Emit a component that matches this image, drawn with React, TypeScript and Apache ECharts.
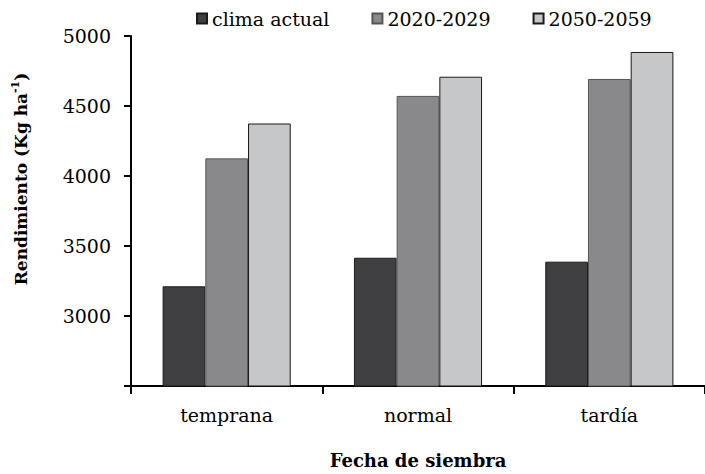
import React, { useEffect, useRef } from "react";
import * as echarts from "echarts";

const categories = ["temprana", "normal", "tardía"];
const seriesNames = ["clima actual", "2020-2029", "2050-2059"];
const climaActual = [3212, 3416, 3388];
const p2020 = [4126, 4572, 4693];
const p2050 = [4375, 4709, 4886];
const yTicks = [2500, 3000, 3500, 4000, 4500, 5000];

const colors = ["#404042", "#89898b", "#c6c7c9"];
const borders = ["#1a1a1a", "#555555", "#1a1a1a"];
const FONT = "DejaVu Serif";

export default function App() {
  const ref = useRef<HTMLDivElement>(null);
  useEffect(() => {
    document.body.style.margin = "0";
    if (!ref.current) return;
    const chart = echarts.init(ref.current, undefined, { renderer: "svg" });
    const data = [climaActual, p2020, p2050];
    chart.setOption({
      animation: false,
      backgroundColor: "#ffffff",
      textStyle: { fontFamily: FONT },
      legend: {
        left: 191,
        top: 4,
        icon: "rect",
        itemWidth: 10,
        itemHeight: 10,
        itemGap: 42,
        textStyle: { fontFamily: FONT, fontSize: 19, color: "#000" },
        data: seriesNames,
      },
      grid: { left: 131, top: 36, width: 580, bottom: 86, containLabel: false },
      xAxis: {
        type: "category",
        data: categories,
        axisLine: { lineStyle: { color: "#000", width: 2 } },
        axisTick: { show: true, length: 8, lineStyle: { color: "#000", width: 2 } },
        axisLabel: { fontFamily: FONT, fontSize: 19, color: "#000", margin: 19 },
        name: "Fecha de siembra",
        nameLocation: "middle",
        nameGap: 65,
        nameTextStyle: { fontFamily: FONT, fontSize: 18, fontWeight: "bold", color: "#000" },
      },
      yAxis: {
        type: "value",
        min: yTicks[0],
        max: yTicks[yTicks.length - 1],
        interval: 500,
        splitLine: { show: false },
        axisLine: { show: true, lineStyle: { color: "#000", width: 2 } },
        axisTick: { show: true, length: 7, lineStyle: { color: "#000", width: 2 } },
        axisLabel: {
          fontFamily: FONT,
          fontSize: 19,
          color: "#000",
          margin: 20,
          formatter: (v: number) => (v === yTicks[0] ? "" : String(v)),
        },
        name: "{b|Rendimiento (Kg ha}{s|-1}{b|)}",
        nameLocation: "middle",
        nameGap: 99,
        nameRotate: 90,
        nameTextStyle: {
          padding: [0, 0, 0, 64],
          rich: {
            b: { fontFamily: FONT, fontSize: 17, fontWeight: "bold", color: "#000", lineHeight: 22 },
            s: { fontFamily: FONT, fontSize: 11, fontWeight: "bold", color: "#000", verticalAlign: "top", lineHeight: 22, padding: [0, 0, 8, 0] },
          },
        },
      },
      series: seriesNames.map((n, i) => ({
        name: n,
        type: "bar",
        data: data[i],
        barWidth: 42.7,
        barGap: "0%",
        itemStyle: { color: colors[i], borderColor: borders[i], borderWidth: 1 },
      })),
    });
    return () => chart.dispose();
  }, []);
  return <div ref={ref} style={{ width: 705, height: 474 }} />;
}
